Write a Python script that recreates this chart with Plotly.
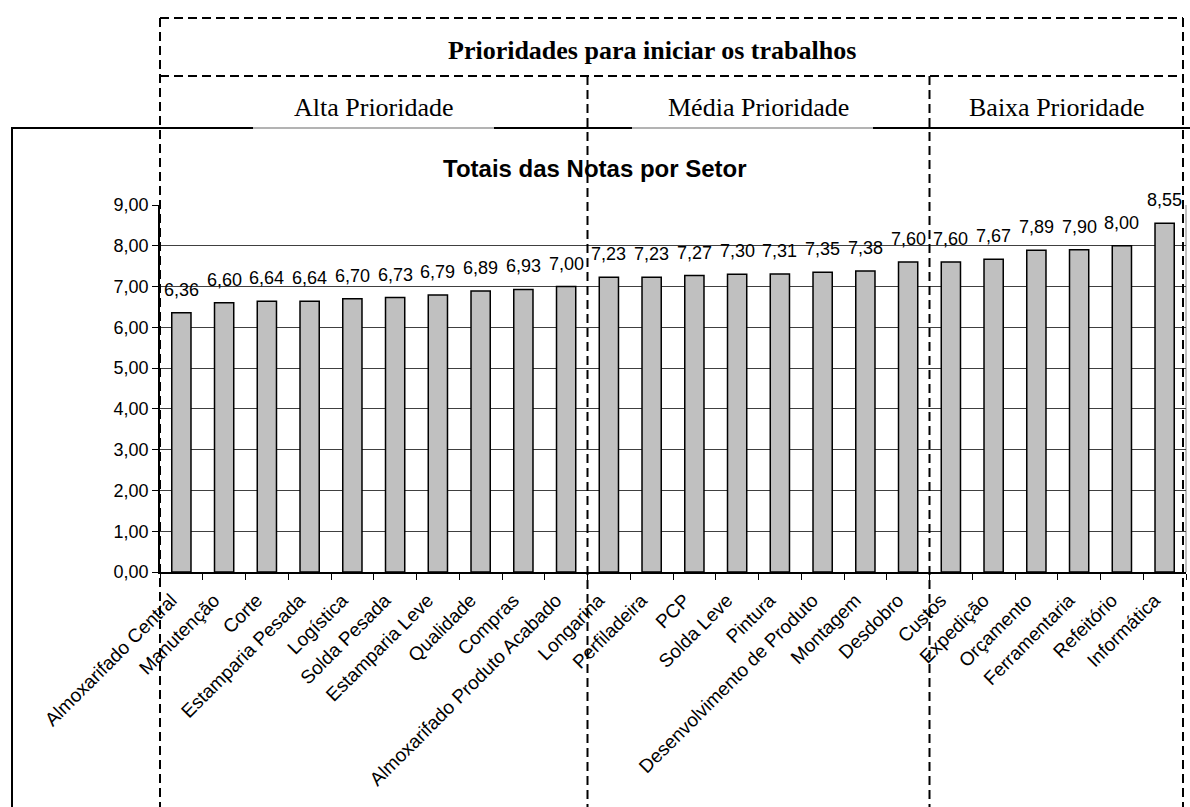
import plotly.graph_objects as go

# Sector scores, ordered from lowest to highest
setores = [
    "Almoxarifado Central", "Manutenção", "Corte", "Estamparia Pesada", "Logística",
    "Solda Pesada", "Estamparia Leve", "Qualidade", "Compras", "Almoxarifado Produto Acabado",
    "Longarina", "Perfiladeira", "PCP", "Solda Leve", "Pintura",
    "Desenvolvimento de Produto", "Montagem", "Desdobro",
    "Custos", "Expedição", "Orçamento", "Ferramentaria", "Refeitório", "Informática",
]
notas = [
    6.36, 6.60, 6.64, 6.64, 6.70, 6.73, 6.79, 6.89, 6.93, 7.00,
    7.23, 7.23, 7.27, 7.30, 7.31, 7.35, 7.38, 7.60,
    7.60, 7.67, 7.89, 7.90, 8.00, 8.55,
]
grupos = ["Alta Prioridade", "Média Prioridade", "Baixa Prioridade"]
setores_por_grupo = [10, 8, 6]
y_ticks = [0, 1, 2, 3, 4, 5, 6, 7, 8, 9]

titulo_grafico = "Totais das Notas por Setor"
titulo_prioridades = "Prioridades para iniciar os trabalhos"

W, H = 1190, 807
L, R, T, B = 160, 1186, 205, 572


def fx(px):
    return (px - L) / (R - L)


def fy(py):
    return (B - py) / (B - T)


SANS = "Liberation Sans, Arial, sans-serif"
SERIF = "Liberation Serif, Times New Roman, serif"

fig = go.Figure()
fig.add_trace(go.Bar(
    x=setores,
    y=notas,
    width=0.45,
    marker=dict(color="#C0C0C0", line=dict(color="black", width=1.5)),
    hoverinfo="x+y",
))

# value labels above each bar
annotations = []
for s, v in zip(setores, notas):
    annotations.append(dict(
        x=s, y=v, xref="x", yref="y", text=f"{v:.2f}".replace(".", ","),
        showarrow=False, yanchor="middle", yshift=23,
        font=dict(family=SANS, size=18, color="black"),
    ))

annotations.append(dict(
    x=fx(595), y=fy(168), xref="paper", yref="paper", text=f"<b>{titulo_grafico}</b>",
    showarrow=False, xanchor="center", yanchor="middle",
    font=dict(family=SANS, size=24, color="black"),
))

annotations.append(dict(
    x=fx(652), y=fy(50), xref="paper", yref="paper", text=f"<b>{titulo_prioridades}</b>",
    showarrow=False, xanchor="center", yanchor="middle",
    font=dict(family=SERIF, size=26, color="black"),
))

# priority group headers and dashed dividers
n_total = len(setores)
right_px = 1183
bounds = [0]
for n in setores_por_grupo:
    bounds.append(bounds[-1] + n)
bound_px = [L + b * (R - L) / n_total for b in bounds]
bound_px[-1] = right_px

for i, g in enumerate(grupos):
    cx = (bound_px[i] + bound_px[i + 1]) / 2
    annotations.append(dict(
        x=fx(cx), y=fy(107), xref="paper", yref="paper", text=g,
        showarrow=False, xanchor="center", yanchor="middle",
        font=dict(family=SERIF, size=26, color="black"),
    ))

dash = dict(color="black", width=2, dash="9px,5px")
shapes = [
    # dashed outer box and separators
    dict(type="line", xref="paper", yref="paper", x0=fx(160), x1=fx(right_px), y0=fy(18), y1=fy(18), line=dash),
    dict(type="line", xref="paper", yref="paper", x0=fx(160), x1=fx(right_px), y0=fy(76), y1=fy(76), line=dash),
    dict(type="line", xref="paper", yref="paper", x0=fx(160), x1=fx(160), y0=fy(18), y1=fy(H), line=dash),
    dict(type="line", xref="paper", yref="paper", x0=fx(right_px), x1=fx(right_px), y0=fy(18), y1=fy(H), line=dash),
]
for b in bounds[1:-1]:
    shapes.append(dict(type="line", xref="x", yref="paper", x0=b - 0.5, x1=b - 0.5,
                       y0=fy(76), y1=fy(H), line=dash))

# solid chart frame (top edge is partly covered by the header text boxes)
frame = dict(color="black", width=2)
faint = dict(color="#9a9a9a", width=1.5)
top_segments = [(12, 253, frame), (253, 494, faint), (494, 632, frame), (632, 873, faint), (873, W, frame)]
for x0, x1, style in top_segments:
    shapes.append(dict(type="line", xref="paper", yref="paper", x0=fx(x0), x1=fx(x1),
                       y0=fy(128), y1=fy(128), line=style))
shapes += [
    dict(type="line", xref="paper", yref="paper", x0=fx(12), x1=fx(12), y0=fy(127), y1=fy(H), line=frame),
    # right edge of plot area
    dict(type="line", xref="paper", yref="y", x0=1, x1=1, y0=0, y1=9,
         line=dict(color="#808080", width=1), layer="below"),
]

fig.update_layout(
    width=W, height=H,
    margin=dict(l=L, r=W - R, t=T, b=H - B, autoexpand=False),
    paper_bgcolor="white", plot_bgcolor="white",
    separators=",.",
    showlegend=False,
    bargap=0.55,
    font=dict(family=SANS, size=18, color="black"),
    annotations=annotations,
    shapes=shapes,
    xaxis=dict(
        type="category",
        tickangle=-45,
        tickfont=dict(family=SANS, size=19, color="black"),
        showline=True, linecolor="black", linewidth=1.5,
        ticks="outside", ticklen=6, tickcolor="black", tickwidth=1,
        tickson="boundaries",
        ticklabelstandoff=8,
        ticklabelshift=-10,
        showgrid=False,
        automargin=False,
    ),
    yaxis=dict(
        range=[0, 9],
        tickvals=y_ticks,
        tickformat=".2f",
        tickfont=dict(family=SANS, size=18, color="black"),
        showline=True, linecolor="black", linewidth=1.5,
        ticks="outside", ticklen=6, tickcolor="black", tickwidth=1,
        showgrid=True, gridcolor="#404040", gridwidth=1,
        zeroline=False,
        automargin=False,
    ),
)

fig.write_html("out.html")
